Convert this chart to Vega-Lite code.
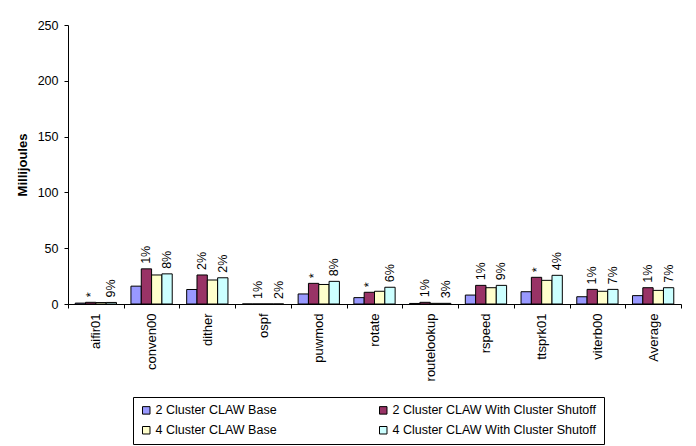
{
  "$schema": "https://vega.github.io/schema/vega-lite/v6.json",
  "autosize": {"type": "none"},
  "width": 613,
  "height": 279,
  "padding": {"left": 68, "top": 25, "right": 15, "bottom": 142},
  "background": "white",
  "config": {
    "font": "Liberation Sans",
    "view": {"stroke": null},
    "axis": {
      "domainColor": "black",
      "tickColor": "black",
      "labelColor": "black",
      "titleColor": "black",
      "labelFont": "Liberation Sans",
      "titleFont": "Liberation Sans",
      "grid": false
    }
  },
  "data": {
    "values": [
      {"benchmark": "aifir01", "config": "2 Cluster CLAW Base", "mj": 0.8, "note": ""},
      {"benchmark": "aifir01", "config": "2 Cluster CLAW With Cluster Shutoff", "mj": 1.5, "note": "*"},
      {"benchmark": "aifir01", "config": "4 Cluster CLAW Base", "mj": 1.3, "note": ""},
      {"benchmark": "aifir01", "config": "4 Cluster CLAW With Cluster Shutoff", "mj": 1.4, "note": "9%"},
      {"benchmark": "conven00", "config": "2 Cluster CLAW Base", "mj": 16, "note": ""},
      {"benchmark": "conven00", "config": "2 Cluster CLAW With Cluster Shutoff", "mj": 31.5, "note": "1%"},
      {"benchmark": "conven00", "config": "4 Cluster CLAW Base", "mj": 26, "note": ""},
      {"benchmark": "conven00", "config": "4 Cluster CLAW With Cluster Shutoff", "mj": 27, "note": "8%"},
      {"benchmark": "dither", "config": "2 Cluster CLAW Base", "mj": 13, "note": ""},
      {"benchmark": "dither", "config": "2 Cluster CLAW With Cluster Shutoff", "mj": 26, "note": "2%"},
      {"benchmark": "dither", "config": "4 Cluster CLAW Base", "mj": 21.5, "note": ""},
      {"benchmark": "dither", "config": "4 Cluster CLAW With Cluster Shutoff", "mj": 23.5, "note": "2%"},
      {"benchmark": "ospf", "config": "2 Cluster CLAW Base", "mj": 0, "note": ""},
      {"benchmark": "ospf", "config": "2 Cluster CLAW With Cluster Shutoff", "mj": 0, "note": "1%"},
      {"benchmark": "ospf", "config": "4 Cluster CLAW Base", "mj": 0, "note": ""},
      {"benchmark": "ospf", "config": "4 Cluster CLAW With Cluster Shutoff", "mj": 0, "note": "2%"},
      {"benchmark": "puwmod", "config": "2 Cluster CLAW Base", "mj": 9, "note": ""},
      {"benchmark": "puwmod", "config": "2 Cluster CLAW With Cluster Shutoff", "mj": 18.5, "note": "*"},
      {"benchmark": "puwmod", "config": "4 Cluster CLAW Base", "mj": 17.5, "note": ""},
      {"benchmark": "puwmod", "config": "4 Cluster CLAW With Cluster Shutoff", "mj": 20.3, "note": "8%"},
      {"benchmark": "rotate", "config": "2 Cluster CLAW Base", "mj": 5.7, "note": ""},
      {"benchmark": "rotate", "config": "2 Cluster CLAW With Cluster Shutoff", "mj": 10.5, "note": "*"},
      {"benchmark": "rotate", "config": "4 Cluster CLAW Base", "mj": 11.4, "note": ""},
      {"benchmark": "rotate", "config": "4 Cluster CLAW With Cluster Shutoff", "mj": 15, "note": "6%"},
      {"benchmark": "routelookup", "config": "2 Cluster CLAW Base", "mj": 0.5, "note": ""},
      {"benchmark": "routelookup", "config": "2 Cluster CLAW With Cluster Shutoff", "mj": 1.5, "note": "1%"},
      {"benchmark": "routelookup", "config": "4 Cluster CLAW Base", "mj": 0.6, "note": ""},
      {"benchmark": "routelookup", "config": "4 Cluster CLAW With Cluster Shutoff", "mj": 0.6, "note": "3%"},
      {"benchmark": "rspeed", "config": "2 Cluster CLAW Base", "mj": 8, "note": ""},
      {"benchmark": "rspeed", "config": "2 Cluster CLAW With Cluster Shutoff", "mj": 16.7, "note": "1%"},
      {"benchmark": "rspeed", "config": "4 Cluster CLAW Base", "mj": 14.6, "note": ""},
      {"benchmark": "rspeed", "config": "4 Cluster CLAW With Cluster Shutoff", "mj": 16.7, "note": "9%"},
      {"benchmark": "ttsprk01", "config": "2 Cluster CLAW Base", "mj": 11, "note": ""},
      {"benchmark": "ttsprk01", "config": "2 Cluster CLAW With Cluster Shutoff", "mj": 23.9, "note": "*"},
      {"benchmark": "ttsprk01", "config": "4 Cluster CLAW Base", "mj": 21.2, "note": ""},
      {"benchmark": "ttsprk01", "config": "4 Cluster CLAW With Cluster Shutoff", "mj": 25.7, "note": "4%"},
      {"benchmark": "viterb00", "config": "2 Cluster CLAW Base", "mj": 6.5, "note": ""},
      {"benchmark": "viterb00", "config": "2 Cluster CLAW With Cluster Shutoff", "mj": 13.1, "note": "1%"},
      {"benchmark": "viterb00", "config": "4 Cluster CLAW Base", "mj": 11.4, "note": ""},
      {"benchmark": "viterb00", "config": "4 Cluster CLAW With Cluster Shutoff", "mj": 13.1, "note": "7%"},
      {"benchmark": "Average", "config": "2 Cluster CLAW Base", "mj": 7.5, "note": ""},
      {"benchmark": "Average", "config": "2 Cluster CLAW With Cluster Shutoff", "mj": 14.6, "note": "1%"},
      {"benchmark": "Average", "config": "4 Cluster CLAW Base", "mj": 12.2, "note": ""},
      {"benchmark": "Average", "config": "4 Cluster CLAW With Cluster Shutoff", "mj": 14.6, "note": "7%"}
    ]
  },
  "encoding": {
    "x": {
      "field": "benchmark",
      "type": "nominal",
      "sort": null,
      "scale": {"paddingInner": 0, "paddingOuter": 0},
      "axis": {
        "title": null,
        "labelAngle": -90,
        "labelFontSize": 13,
        "labelPadding": 5,
        "tickSize": 4,
        "tickBand": "extent"
      }
    },
    "xOffset": {
      "field": "config",
      "type": "nominal",
      "scale": {"paddingInner": 0, "paddingOuter": 0.7}
    },
    "y": {
      "field": "mj",
      "type": "quantitative",
      "scale": {"domain": [0, 250], "nice": false},
      "axis": {
        "title": "Millijoules",
        "titleFontSize": 13,
        "titleFontWeight": "bold",
        "titlePadding": 8,
        "values": [0, 50, 100, 150, 200, 250],
        "labelFontSize": 12.5,
        "labelPadding": 6,
        "tickSize": 4
      }
    }
  },
  "layer": [
    {
      "mark": {"type": "bar", "stroke": "black", "strokeWidth": 1},
      "encoding": {
        "color": {
          "field": "config",
          "type": "nominal",
          "scale": {
            "domain": [
              "2 Cluster CLAW Base",
              "2 Cluster CLAW With Cluster Shutoff",
              "4 Cluster CLAW Base",
              "4 Cluster CLAW With Cluster Shutoff"
            ],
            "range": ["#9999FF", "#993366", "#FFFFCC", "#CCFFFF"]
          },
          "legend": {
            "title": null,
            "orient": "none",
            "legendX": 65,
            "legendY": 372,
            "direction": "horizontal",
            "columns": 2,
            "columnPadding": 100,
            "rowPadding": 7,
            "padding": 7,
            "strokeColor": "black",
            "fillColor": "white",
            "symbolType": "square",
            "symbolSize": 56,
            "symbolStrokeColor": "black",
            "symbolStrokeWidth": 1,
            "labelFontSize": 12.5,
            "labelColor": "black",
            "labelFont": "Liberation Sans",
            "labelLimit": 300,
            "labelOffset": 3
          }
        }
      }
    },
    {
      "transform": [{"filter": "datum.note != ''"}],
      "mark": {
        "type": "text",
        "angle": 270,
        "align": "left",
        "baseline": "middle",
        "dx": 5,
        "fontSize": 12.5,
        "font": "Liberation Sans",
        "color": "black"
      },
      "encoding": {
        "text": {"field": "note", "type": "nominal"}
      }
    }
  ]
}
